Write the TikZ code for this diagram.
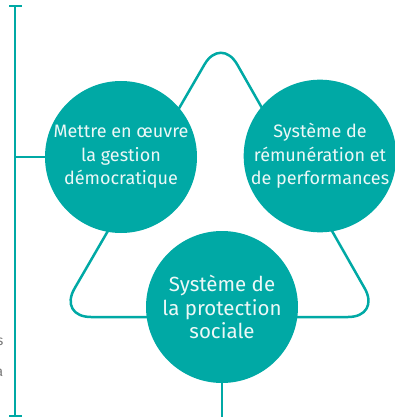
\documentclass[tikz,border=0pt]{standalone}
\usepackage{fontspec}
\setmainfont{Fira Sans}
\definecolor{tealc}{RGB}{0,169,165}
\definecolor{txtc}{RGB}{236,248,247}
\definecolor{grayc}{RGB}{120,120,120}
\begin{document}
\begin{tikzpicture}[x=1pt,y=-1pt,
  bubble/.style={circle,fill=tealc,minimum size=152pt,inner sep=0pt,
    text=txtc,align=center,font=\fontsize{18}{23.5}\selectfont},
  link/.style={draw=tealc,line width=2.5pt},
  frag/.style={text=grayc,anchor=east,inner sep=0pt,font=\fontsize{14}{16}\selectfont}]
\useasboundingbox (0,0) rectangle (395,417);
% rounded triangle behind the circles
\draw[link,rounded corners=33pt] (221,36) -- (381,317) -- (58,317) -- cycle;
% left timeline
\coordinate (ttop) at (15,6);
\coordinate (tbot) at (15,416);
\coordinate (ttl) at (9,6);
\coordinate (ttr) at (22,6);
\coordinate (tbl) at (9,416);
\coordinate (tbr) at (22,416);
\coordinate (tmid) at (15,157);
\draw[link] (ttop) -- (tbot);
\draw[link] (ttl) -- (ttr);
\draw[link] (tbl) -- (tbr);
% circles
\node[bubble] (c1) at (121,157) {Mettre en œuvre\\la gestion\\démocratique};
\node[bubble] (c2) at (320,156) {Système de\\rémunération et\\de performances};
\node[bubble,font=\fontsize{20.5}{23.5}\selectfont] (c3) at (222,307) {Système de\\la protection\\sociale};
\draw[link] (tmid) -- (c1.west);
\coordinate (cend) at (222,420);
\draw[link] (c3.south) -- (cend);
% cut-off text fragments at the left edge
\node[frag] (f1) at (3.5,342) {s};
\node[frag] (f2) at (3.5,373) {a};
\end{tikzpicture}
\end{document}
